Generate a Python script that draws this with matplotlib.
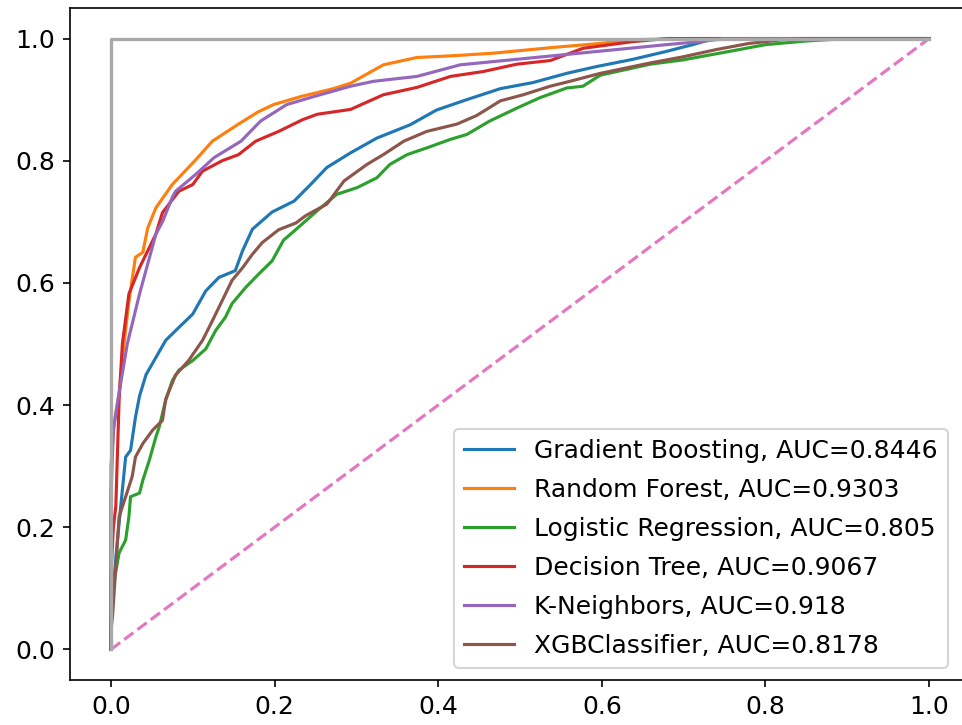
import matplotlib
matplotlib.use("Agg")
import matplotlib.pyplot as plt

# ROC curve points (fpr, tpr)
names = ["Gradient Boosting", "Random Forest", "Logistic Regression",
         "Decision Tree", "K-Neighbors", "XGBClassifier"]
aucs = ["0.8446", "0.9303", "0.805", "0.9067", "0.918", "0.8178"]

gb_fpr = [0, 0, 0.006, 0.010, 0.018, 0.024, 0.030, 0.035, 0.043, 0.055, 0.067, 0.083, 0.1, 0.116,
          0.132, 0.152, 0.161, 0.173, 0.197, 0.224, 0.244, 0.264, 0.293, 0.325, 0.366, 0.398, 0.435,
          0.476, 0.516, 0.557, 0.593, 0.638, 0.679, 0.711, 0.732, 0.78, 1.0]
gb_tpr = [0, 0.05, 0.15, 0.207, 0.315, 0.326, 0.38, 0.415, 0.45, 0.478, 0.506, 0.527, 0.549, 0.587,
          0.609, 0.62, 0.653, 0.688, 0.716, 0.734, 0.761, 0.789, 0.813, 0.837, 0.859, 0.883, 0.9,
          0.918, 0.928, 0.943, 0.954, 0.966, 0.979, 0.99, 0.998, 1.0, 1.0]

rf_fpr = [0, 0, 0.004, 0.010, 0.016, 0.022, 0.030, 0.039, 0.045, 0.055, 0.075, 0.104, 0.124, 0.156,
          0.18, 0.199, 0.232, 0.272, 0.293, 0.333, 0.374, 0.42, 0.467, 0.537, 0.598, 0.638, 0.7, 0.8, 1.0]
rf_tpr = [0, 0.30, 0.37, 0.42, 0.50, 0.57, 0.642, 0.65, 0.69, 0.723, 0.761, 0.802, 0.832, 0.86,
          0.88, 0.892, 0.905, 0.918, 0.927, 0.957, 0.969, 0.972, 0.976, 0.985, 0.992, 0.998, 1.0, 1.0, 1.0]

lr_fpr = [0, 0, 0.005, 0.010, 0.018, 0.022, 0.024, 0.035, 0.039, 0.047, 0.055, 0.059, 0.067, 0.075,
          0.083, 0.1, 0.116, 0.128, 0.14, 0.148, 0.165, 0.181, 0.197, 0.211, 0.224, 0.252, 0.276,
          0.301, 0.325, 0.341, 0.362, 0.386, 0.415, 0.435, 0.463, 0.496, 0.524, 0.557, 0.577, 0.598,
          0.659, 0.699, 0.76, 0.80, 0.85, 0.9, 1.0]
lr_tpr = [0, 0.06, 0.12, 0.158, 0.179, 0.217, 0.25, 0.256, 0.277, 0.31, 0.348, 0.364, 0.408, 0.44,
          0.457, 0.473, 0.492, 0.522, 0.544, 0.566, 0.593, 0.615, 0.636, 0.67, 0.685, 0.718, 0.745,
          0.756, 0.772, 0.794, 0.81, 0.821, 0.835, 0.843, 0.865, 0.886, 0.903, 0.919, 0.922, 0.94,
          0.958, 0.965, 0.98, 0.99, 0.996, 1.0, 1.0]

dt_fpr = [0, 0, 0.003, 0.006, 0.010, 0.014, 0.022, 0.035, 0.047, 0.055, 0.063, 0.083, 0.1, 0.112,
          0.136, 0.156, 0.177, 0.205, 0.234, 0.252, 0.293, 0.333, 0.374, 0.415, 0.455, 0.496, 0.537,
          0.577, 0.638, 0.68, 1.0]
dt_tpr = [0, 0.12, 0.20, 0.234, 0.408, 0.50, 0.582, 0.625, 0.658, 0.68, 0.715, 0.75, 0.761, 0.783,
          0.80, 0.81, 0.832, 0.848, 0.867, 0.876, 0.884, 0.908, 0.92, 0.938, 0.946, 0.958, 0.964,
          0.984, 0.995, 1.0, 1.0]

kn_fpr = [0, 0, 0.003, 0.010, 0.020, 0.035, 0.046, 0.055, 0.063, 0.075, 0.079, 0.104, 0.126, 0.159,
          0.183, 0.215, 0.248, 0.293, 0.321, 0.354, 0.374, 0.427, 0.496, 0.557, 0.618, 0.679, 0.72,
          0.75, 1.0]
kn_tpr = [0, 0.25, 0.36, 0.42, 0.50, 0.582, 0.636, 0.68, 0.70, 0.74, 0.75, 0.778, 0.805, 0.832,
          0.865, 0.892, 0.905, 0.922, 0.93, 0.935, 0.938, 0.957, 0.966, 0.974, 0.982, 0.99, 0.995,
          1.0, 1.0]

xgb_fpr = [0, 0, 0.002, 0.006, 0.010, 0.018, 0.026, 0.030, 0.039, 0.051, 0.063, 0.067, 0.079, 0.095,
           0.112, 0.124, 0.136, 0.148, 0.161, 0.173, 0.185, 0.205, 0.226, 0.238, 0.264, 0.285, 0.313,
           0.333, 0.358, 0.386, 0.423, 0.447, 0.476, 0.504, 0.537, 0.561, 0.598, 0.659, 0.699, 0.74,
           0.78, 0.821, 0.85, 1.0]
xgb_tpr = [0, 0.03, 0.054, 0.136, 0.217, 0.25, 0.283, 0.315, 0.337, 0.359, 0.375, 0.41, 0.449, 0.473,
           0.506, 0.538, 0.571, 0.604, 0.625, 0.647, 0.666, 0.687, 0.698, 0.71, 0.729, 0.767, 0.794,
           0.81, 0.832, 0.848, 0.86, 0.874, 0.898, 0.908, 0.922, 0.93, 0.943, 0.96, 0.97, 0.982,
           0.992, 0.998, 1.0, 1.0]

curves = [(gb_fpr, gb_tpr), (rf_fpr, rf_tpr), (lr_fpr, lr_tpr),
          (dt_fpr, dt_tpr), (kn_fpr, kn_tpr), (xgb_fpr, xgb_tpr)]

W, H = 962, 725
fig = plt.figure(figsize=(W / 150, H / 150), dpi=150)
ax = fig.add_axes([70 / W, (H - 680) / H, 900 / W, 672 / H])

for name, auc, (fpr, tpr) in zip(names, aucs, curves):
    ax.plot(fpr, tpr, label=name + ", AUC=" + auc)

ax.plot([0, 1], [0, 1], "--", color="tab:pink")
ax.plot([0, 0, 1], [0, 1, 1], color="#aaaaaa", lw=1.6)

ax.tick_params(labelsize=12)

handles, labels = ax.get_legend_handles_labels()
ax.legend(handles[:6], labels[:6], loc="lower right", fontsize=12, labelspacing=0.6,
          bbox_to_anchor=(878 / 900, 12 / 672), borderaxespad=0)

fig.savefig("out.png", dpi=150)
